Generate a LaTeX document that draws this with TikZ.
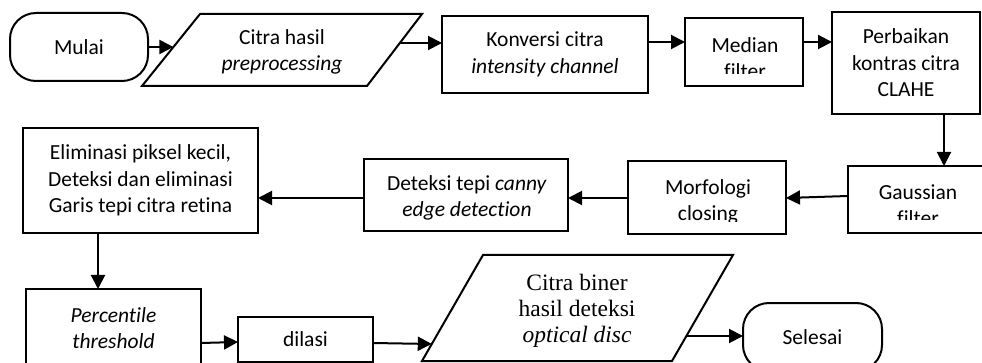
\documentclass[tikz,border=0pt]{standalone}
\usepackage{fontspec}
\setmainfont{Carlito}[Ligatures=CommonOff]
\newfontfamily\timesfont{Liberation Serif}
\usetikzlibrary{arrows.meta}
\begin{document}
\begin{tikzpicture}[x=1pt,y=-1pt,
  every node/.style={inner sep=0pt, outer sep=0pt},
  box/.style={draw, line width=2pt, rectangle},
  term/.style={box, rounded corners=26pt},
  txt/.style={align=center, font=\fontsize{21.5}{26.5}\selectfont},
  serif/.style={align=center, font=\timesfont\fontsize{23.5}{26}\selectfont},
  arr/.style={line width=2pt, -{Triangle[length=14pt,width=14pt]}},
  shapeline/.style={line width=2pt, line join=miter}
]
\clip (0,0) rectangle (982,363);

% ---------- top row ----------
\node[term, txt, minimum width=138pt, minimum height=68pt] (mulai) at (79,47) {Mulai};

\coordinate (p1bl) at (142,86);
\coordinate (p1tl) at (200,14);
\coordinate (p1tr) at (422,14);
\coordinate (p1br) at (367,86);
\draw[shapeline] (p1bl) -- (p1tl) -- (p1tr) -- (p1br) -- cycle;
\node[txt] (tp1) at (282,52) {Citra hasil\\\textit{preprocessing}};
\coordinate (p1in) at (173.4,47);
\coordinate (p1out) at (400,43);

\node[box, txt, minimum width=206pt, minimum height=77pt] (konv) at (545,54.5) {Konversi citra\\\textit{intensity channel}};

\node[box, minimum width=118pt, minimum height=68pt] (med) at (744,52) {};
\begin{scope}
  \clip (685,18) rectangle (803,74);
  \node[txt] (tmed) at (745,58) {Median\\filter};
\end{scope}

\node[box, txt, minimum width=148pt, minimum height=102pt] (perb) at (906,63) {Perbaikan\\kontras citra\\CLAHE};

% ---------- middle row ----------
\node[box, minimum width=136pt, minimum height=67pt] (gaus) at (916,199.5) {};
\begin{scope}
  \clip (848,166) rectangle (984,220);
  \node[txt] (tgaus) at (918,205) {Gaussian\\filter};
\end{scope}

\node[box, minimum width=158pt, minimum height=73pt] (morf) at (707,197.5) {};
\begin{scope}
  \clip (628,161) rectangle (786,222);
  \node[txt] (tmorf) at (708,202) {Morfologi\\closing};
\end{scope}

\node[box, minimum width=204pt, minimum height=72pt] (det) at (466,195) {};
\begin{scope}
  \clip (364,159) rectangle (568,221);
  \node[txt] (tdet) at (467,198) {Deteksi tepi \textit{canny}\\\textit{edge detection}};
\end{scope}

\node[box, txt, minimum width=235pt, minimum height=105pt] (elim) at (140.5,180.5) {Eliminasi piksel kecil,\\Deteksi dan eliminasi\\Garis tepi citra retina};

% ---------- bottom row ----------
\node[box, minimum width=175pt, minimum height=103pt] (perc) at (113.5,340.5) {};
\node[txt] (tperc) at (113.5,328) {\textit{Percentile}\\\textit{threshold}};

\node[box, txt, minimum width=135pt, minimum height=45pt] (dil) at (305.5,339.5) {dilasi};

\coordinate (p2bl) at (422,361);
\coordinate (p2tl) at (483,255);
\coordinate (p2tr) at (733,255);
\coordinate (p2br) at (672,361);
\draw[shapeline] (p2bl) -- (p2tl) -- (p2tr) -- (p2br) -- cycle;
\node[serif] (tp2) at (577,311) {Citra biner\\hasil deteksi\\\textit{optical disc}};
\coordinate (p2in) at (431.8,344);
\coordinate (p2out) at (686.4,336);

\node[term, txt, minimum width=139pt, minimum height=68pt] (sel) at (812.5,337) {Selesai};

% ---------- connectors ----------
\draw[arr] (mulai.east) -- (p1in);
\draw[arr] (p1out) -- (p1out -| konv.west);
\draw[arr] (konv.east |- 0,42) -- (med.west |- 0,42);
\draw[arr] (med.east |- 0,42) -- (perb.west |- 0,42);
\draw[arr] (perb.south -| 944,0) -- (gaus.north -| 944,0);
\draw[arr] (gaus.west |- 0,196) -- (morf.east |- 0,198);
\draw[arr] (morf.west |- 0,198) -- (det.east |- 0,198);
\draw[arr] (det.west |- 0,198) -- (elim.east |- 0,198);
\draw[arr] (elim.south -| 98,0) -- (perc.north -| 98,0);
\draw[arr] (perc.east |- 0,343) -- (dil.west |- 0,342);
\draw[arr] (dil.east |- 0,343) -- (p2in);
\draw[arr] (p2out) -- (sel.west |- p2out);
\end{tikzpicture}
\end{document}
